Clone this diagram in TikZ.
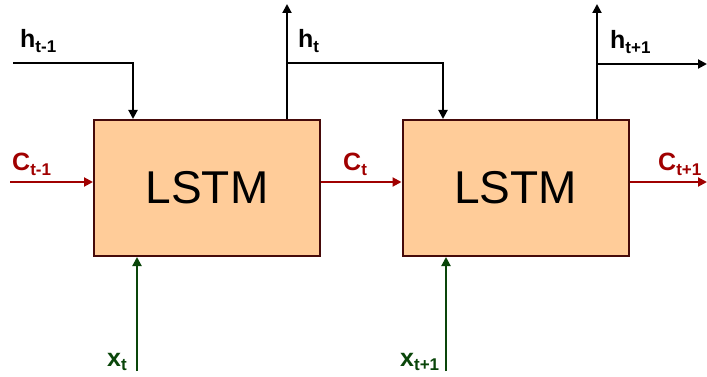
\documentclass[tikz,border=0pt]{standalone}
\usepackage{fontspec}
\setmainfont{Liberation Sans}
\usetikzlibrary{arrows.meta}
\definecolor{boxfill}{RGB}{255,204,153}
\definecolor{boxline}{RGB}{70,10,10}
\definecolor{cred}{RGB}{160,0,0}
\definecolor{xgreen}{RGB}{10,70,10}
\newcommand{\lbl}[2]{{\fontsize{25}{25}\selectfont\bfseries #1\raisebox{-0.35ex}{\fontsize{17}{17}\selectfont\bfseries #2}}}
\begin{document}
\begin{tikzpicture}[x=1pt,y=-1pt,
  cell/.style={draw=boxline,fill=boxfill,line width=2pt,minimum width=226pt,minimum height=136pt,inner sep=0pt,font=\fontsize{46}{46}\selectfont},
  tip/.style={-{Triangle[length=9pt,width=9pt]}},
  hline/.style={black,line width=2pt,tip},
  cline/.style={cred,line width=2pt,tip},
  xline/.style={xgreen,line width=2pt,tip},
  lab/.style={anchor=base west,inner sep=0pt}]
\useasboundingbox (0,0) rectangle (707,377);
\node[cell] (L1) at (207,188) {LSTM};
\node[cell] (L2) at (515.5,188) {LSTM};
% coordinates
\coordinate (hin) at (13,63);
\coordinate (hout1) at (287,4);
\coordinate (hout2) at (597,4);
\coordinate (hend) at (707,64);
\coordinate (cin) at (10,182);
\coordinate (cend) at (707,182);
\coordinate (x1) at (137,371);
\coordinate (x2) at (446,371);
% h lines
\draw[hline] (hin) -| (L1.north -| 133,0);
\draw[hline] (L1.north -| hout1) -- (hout1);
\draw[hline] (287,63) -| (L2.north -| 443,0);
\draw[hline] (L2.north -| hout2) -- (hout2);
\draw[hline] (597,64) -- (hend);
% c lines
\draw[cline] (cin) -- (cin -| L1.west);
\draw[cline] (L1.east |- 0,182) -- (L2.west |- 0,182);
\draw[cline] (L2.east |- 0,182) -- (cend);
% x lines
\draw[xline] (x1) -- (x1 |- L1.south);
\draw[xline] (x2) -- (x2 |- L2.south);
% labels
\node[lab] (lh0) at (20,48) {\lbl{h}{t-1}};
\node[lab] (lh1) at (298,48) {\lbl{h}{t}};
\node[lab] (lh2) at (610,49) {\lbl{h}{t+1}};
\node[lab,text=cred] (lc0) at (12,171) {\lbl{C}{t-1}};
\node[lab,text=cred] (lc1) at (343,171) {\lbl{C}{t}};
\node[lab,text=cred] (lc2) at (658,171) {\lbl{C}{t+1}};
\node[lab,text=xgreen] (lx1) at (107,366) {\lbl{x}{t}};
\node[lab,text=xgreen] (lx2) at (400,366) {\lbl{x}{t+1}};
\end{tikzpicture}
\end{document}
